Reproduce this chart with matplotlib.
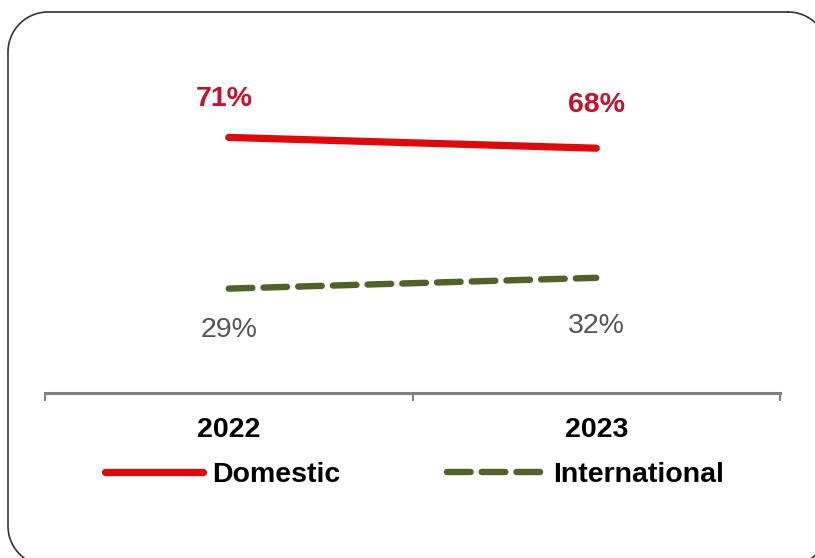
import numpy as np
import matplotlib.pyplot as plt

# data
years = ["2022", "2023"]
domestic = [71, 68]
international = [29, 32]
domestic_labels = ["71%", "68%"]
international_labels = ["29%", "32%"]

plt.rcParams['font.family'] = ['Liberation Sans', 'DejaVu Sans']
plt.rcParams['lines.scale_dashes'] = False

W, H = 815, 558
fs = 20.5
fig = plt.figure(figsize=(W / 100, H / 100), dpi=100)


def rounded_rect(x0, y0, x1, y1, r):
    # corners in pixel coords (y down), returns outline points
    pts = []
    corners = [(x1 - r, y0 + r, -90, 0), (x1 - r, y1 - r, 0, 90),
               (x0 + r, y1 - r, 90, 180), (x0 + r, y0 + r, 180, 270)]
    for cx, cy, a0, a1 in corners:
        t = np.radians(np.linspace(a0, a1, 30))
        pts += list(zip(cx + r * np.cos(t), cy + r * np.sin(t)))
    pts.append(pts[0])
    return np.array(pts)


# rounded frame behind everything
bg = fig.add_axes([0, 0, 1, 1])
bg.set_xlim(0, W)
bg.set_ylim(H, 0)
bg.axis("off")
rr = rounded_rect(8, 12, 828, 566, 40)
bg.plot(rr[:, 0], rr[:, 1], color="#333333", linewidth=1.2, clip_on=False)

ax = fig.add_axes([45 / W, 1 - 393 / H, 735 / W, 360 / H])
x = list(range(len(years)))

ax.plot(x, domestic, color="#E00808", linewidth=5.2, solid_capstyle="round",
        label="Domestic")
ax.plot(x, international, color="#4F6228", linewidth=4.6, dashes=(17, 8),
        dash_capstyle="round", label="International")

offs_d = [(-3, 28), (0, 31)]
offs_i = [(0, -30), (0, -35)]
for i in x:
    ax.annotate(domestic_labels[i], (i, domestic[i]), xytext=offs_d[i],
                textcoords="offset points", ha="center", va="center",
                fontsize=fs, fontweight="bold", color="#C8102E")
    ax.annotate(international_labels[i], (i, international[i]), xytext=offs_i[i],
                textcoords="offset points", ha="center", va="center",
                fontsize=fs, color="#555555")

ax.set_xlim(-0.5, 1.5)
ax.set_ylim(0, 100)
ax.set_xticks(x)
ax.set_xticklabels(years, fontsize=fs, fontweight="bold")
ax.set_xticks([-0.5, 0.5, 1.5], minor=True)
ax.tick_params(axis="x", which="major", length=0, pad=17)
ax.tick_params(axis="x", which="minor", length=6, width=1.5, color="#808080",
               direction="out")
ax.set_yticks([])
for s in ["top", "left", "right"]:
    ax.spines[s].set_visible(False)
ax.spines["bottom"].set_color("#808080")
ax.spines["bottom"].set_linewidth(2.2)
ax.patch.set_alpha(0)

fig.legend(loc="center left", bbox_to_anchor=(105 / W, 1 - 475 / H), ncol=2,
           frameon=False, prop={"weight": "bold", "size": fs},
           handlelength=3.45, handletextpad=0.3, columnspacing=3.75,
           borderpad=0, borderaxespad=0)

fig.savefig("out.png", dpi=100)
